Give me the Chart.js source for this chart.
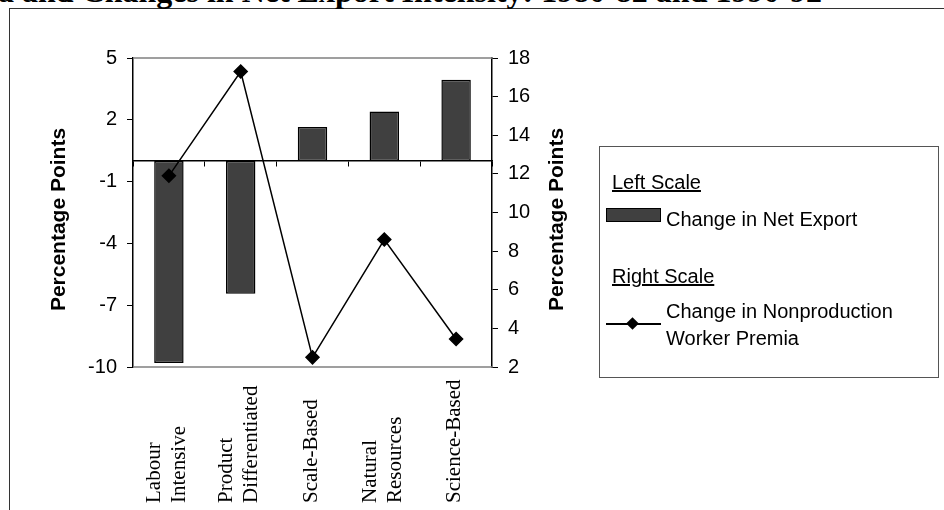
<!DOCTYPE html>
<html>
<head>
<meta charset="utf-8">
<script src="https://cdn.jsdelivr.net/npm/chart.js@4.4.1/dist/chart.umd.min.js"></script>
<style>
  body { margin: 0; width: 944px; height: 510px; overflow: hidden; background: #fff; position: relative; font-family: 'Liberation Sans', Arial, sans-serif; color: #000; }
  #frame { position: absolute; left: 9px; top: 8px; width: 1000px; height: 600px; border-left: 1.5px solid #333; border-top: 1.5px solid #333; }
  #title { position: absolute; left: -2px; top: -25px; font: bold 32px/32px 'Liberation Serif', 'Times New Roman', serif; white-space: nowrap; }
  #chart { position: absolute; left: 0; top: 0; }
  #legendBox { position: absolute; left: 599px; top: 146px; width: 338px; height: 230px; border: 1px solid #555; }
  .lg { position: absolute; font-size: 20px; line-height: 24px; white-space: nowrap; }
  .u { text-decoration: underline; }
  #swatch { position: absolute; left: 606px; top: 208px; width: 53px; height: 12px; background: #404040; border: 1.5px solid #000; }
  #lineSample { position: absolute; left: 606px; top: 323px; width: 55px; height: 1.5px; background: #000; }
  #diamond { position: absolute; left: 628px; top: 319px; width: 9px; height: 9px; background: #000; transform: rotate(45deg); }
</style>
</head>
<body>
<div id="frame"></div>
<div id="title">a and Changes in Net Export Intensity: 1980-82 and 1990-92</div>
<canvas id="chart" width="944" height="510"></canvas>
<div id="legendBox"></div>
<div class="lg u" style="left:612px; top:170px;">Left Scale</div>
<div id="swatch"></div>
<div class="lg" style="left:666px; top:207px;">Change in Net Export</div>
<div class="lg u" style="left:612px; top:264px;">Right Scale</div>
<div id="lineSample"></div>
<div id="diamond"></div>
<div class="lg" style="left:666px; top:298px; line-height:27px;">Change in Nonproduction<br>Worker Premia</div>
<script>
// categories, one array of lines per label
const categories = [['Labour', 'Intensive'], ['Product', 'Differentiated'], ['Scale-Based'], ['Natural', 'Resources'], ['Science-Based']]
// left scale: change in net export (percentage points)
const netExportChange = [-9.8, -6.45, 1.65, 2.4, 3.95]
// right scale: change in nonproduction worker premia
const premiaChange = [11.9, 17.3, 2.5, 8.6, 3.45]
const leftMin = -10, leftMax = 5, leftStep = 3
const rightMin = 2, rightMax = 18, rightStep = 2
const axisTitle = 'Percentage Points'

const sansFont = "'Liberation Sans', Arial, sans-serif"

// grey frame on top and bottom of the plot area
const plotFrame = {
  id: 'plotFrame',
  beforeDatasetsDraw(chart) {
    const { ctx, chartArea: a } = chart
    ctx.save()
    ctx.strokeStyle = '#808080'
    ctx.lineWidth = 1.5
    ctx.beginPath()
    ctx.moveTo(a.left, a.top); ctx.lineTo(a.right, a.top)
    ctx.moveTo(a.left, a.bottom); ctx.lineTo(a.right, a.bottom)
    ctx.stroke()
    ctx.restore()
  }
}

// rotated category labels (all start at the same bottom line) and both axis titles reading upwards
const rotatedText = {
  id: 'rotatedText',
  afterDraw(chart) {
    const ctx = chart.ctx
    const xs = chart.scales.x
    const put = (text, bx, y, align) => {
      ctx.save()
      ctx.translate(bx, y)
      ctx.rotate(-Math.PI / 2)
      ctx.textAlign = align
      ctx.fillText(text, 0, 0)
      ctx.restore()
    }
    ctx.save()
    ctx.fillStyle = '#000'
    ctx.textBaseline = 'alphabetic'
    ctx.font = "21px 'Liberation Serif', 'Times New Roman', serif"
    categories.forEach((lines, i) => {
      const cx = xs.getPixelForValue(i) - 3
      lines.forEach((line, j) => {
        const bx = cx + (j - (lines.length - 1) / 2) * 25 + 7
        put(line, bx, 503, 'left')
      })
    })
    ctx.font = "bold 21px " + sansFont
    const midY = (chart.chartArea.top + chart.chartArea.bottom) / 2 + 7
    put(axisTitle, 65, midY, 'center')
    put(axisTitle, 563, midY, 'center')
    ctx.restore()
  }
}

new Chart(document.getElementById('chart'), {
  type: 'bar',
  data: {
    labels: categories,
    datasets: [
      {
        type: 'line',
        data: premiaChange,
        yAxisID: 'y1',
        borderColor: '#000',
        borderWidth: 1.5,
        pointStyle: 'rectRot',
        pointRadius: 6.5,
        pointBackgroundColor: '#000',
        pointBorderColor: '#000',
        tension: 0,
        order: 0
      },
      {
        type: 'bar',
        data: netExportChange,
        yAxisID: 'y',
        backgroundColor: '#404040',
        borderColor: '#000',
        borderWidth: 1.5,
        borderSkipped: false,
        categoryPercentage: 1,
        barPercentage: 0.41,
        order: 1
      }
    ]
  },
  options: {
    responsive: false,
    animation: false,
    layout: { padding: { top: 58, bottom: 143, left: 0, right: 372 } },
    plugins: { legend: { display: false }, tooltip: { enabled: false } },
    scales: {
      x: {
        position: { y: 0 },
        offset: true,
        ticks: { display: false },
        grid: { display: true, offset: true, drawOnChartArea: false, drawTicks: true, tickLength: 5, color: '#000', lineWidth: 1 },
        border: { display: true, color: '#000', width: 1.5 }
      },
      y: {
        position: 'left',
        min: leftMin,
        max: leftMax,
        afterFit(s) { s.width = 133 },
        ticks: { stepSize: leftStep, color: '#000', font: { family: sansFont, size: 20 }, padding: 10 },
        grid: { drawOnChartArea: false, drawTicks: true, tickLength: 6, color: '#000', lineWidth: 1 },
        border: { display: true, color: '#000', width: 1.5 }
      },
      y1: {
        position: 'right',
        min: rightMin,
        max: rightMax,
        afterFit(s) { s.width = 80 },
        ticks: { stepSize: rightStep, color: '#000', font: { family: sansFont, size: 20 }, padding: 10 },
        grid: { drawOnChartArea: false, drawTicks: true, tickLength: 6, color: '#000', lineWidth: 1 },
        border: { display: true, color: '#000', width: 1.5 }
      }
    }
  },
  plugins: [plotFrame, rotatedText]
})
</script>
</body>
</html>
